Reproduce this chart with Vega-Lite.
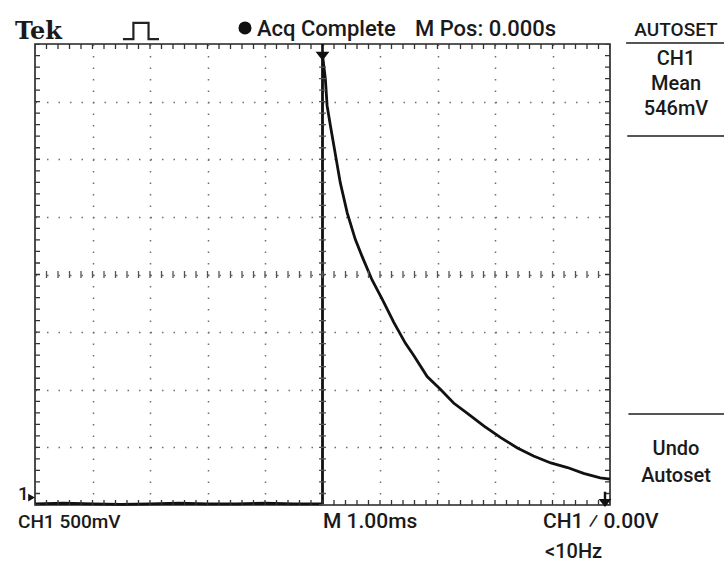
{
  "$schema": "https://vega.github.io/schema/vega-lite/v6.json",
  "width": 575,
  "height": 461,
  "autosize": {"type": "none"},
  "padding": {"left": 35, "top": 44, "right": 114, "bottom": 58},
  "background": "#ffffff",
  "config": {
    "view": {"stroke": "#222222", "strokeWidth": 1.6},
    "font": "Roboto",
    "text": {"font": "Roboto", "fontSize": 20, "color": "#1a1a1a"}
  },
  "data": {
    "values": [
      {"i": 1, "t": -5.0, "v": -0.035},
      {"i": 2, "t": -4.5, "v": -0.03},
      {"i": 3, "t": -4.0, "v": -0.035},
      {"i": 4, "t": -3.5, "v": -0.04},
      {"i": 5, "t": -3.0, "v": -0.035},
      {"i": 6, "t": -2.5, "v": -0.03},
      {"i": 7, "t": -2.0, "v": -0.035},
      {"i": 8, "t": -1.5, "v": -0.035},
      {"i": 9, "t": -1.0, "v": -0.03},
      {"i": 10, "t": -0.5, "v": -0.035},
      {"i": 11, "t": 0.0, "v": -0.035},
      {"i": 12, "t": 0.0, "v": 3.86},
      {"i": 13, "t": 0.05, "v": 3.65},
      {"i": 14, "t": 0.08, "v": 3.42},
      {"i": 15, "t": 0.14, "v": 3.24},
      {"i": 16, "t": 0.23, "v": 2.98},
      {"i": 17, "t": 0.31, "v": 2.75},
      {"i": 18, "t": 0.43, "v": 2.49},
      {"i": 19, "t": 0.57, "v": 2.26},
      {"i": 20, "t": 0.69, "v": 2.11},
      {"i": 21, "t": 0.86, "v": 1.91},
      {"i": 22, "t": 1.04, "v": 1.74},
      {"i": 23, "t": 1.24, "v": 1.54},
      {"i": 24, "t": 1.44, "v": 1.36},
      {"i": 25, "t": 1.59, "v": 1.25},
      {"i": 26, "t": 1.82, "v": 1.07},
      {"i": 27, "t": 2.05, "v": 0.96},
      {"i": 28, "t": 2.28, "v": 0.84},
      {"i": 29, "t": 2.52, "v": 0.75},
      {"i": 30, "t": 2.81, "v": 0.64},
      {"i": 31, "t": 3.1, "v": 0.54},
      {"i": 32, "t": 3.39, "v": 0.45},
      {"i": 33, "t": 3.67, "v": 0.38},
      {"i": 34, "t": 3.97, "v": 0.32},
      {"i": 35, "t": 4.26, "v": 0.28},
      {"i": 36, "t": 4.54, "v": 0.23},
      {"i": 37, "t": 4.83, "v": 0.19},
      {"i": 38, "t": 5.0, "v": 0.18}
    ]
  },
  "layer": [
    {
      "mark": {"type": "line", "color": "#111111", "strokeWidth": 2.8, "strokeJoin": "miter"},
      "encoding": {
        "x": {
          "field": "t", "type": "quantitative", "title": null,
          "scale": {"domain": [-5, 5], "nice": false, "zero": false},
          "axis": {"values": [-4, -3, -2, -1, 0, 1, 2, 3, 4], "grid": true, "gridDash": [1.5, 10], "gridColor": "#6e6e6e", "gridWidth": 1.5, "ticks": false, "labels": false, "domain": false}
        },
        "y": {
          "field": "v", "type": "quantitative", "title": null,
          "scale": {"domain": [-0.045, 3.955], "nice": false, "zero": false},
          "axis": {"values": [0.455, 0.955, 1.455, 1.955, 2.455, 2.955, 3.455], "grid": true, "gridDash": [1.5, 10], "gridColor": "#6e6e6e", "gridWidth": 1.5, "ticks": false, "labels": false, "domain": false}
        },
        "order": {"field": "i"}
      }
    },
    {"data": {"values": [{}]}, "mark": {"type": "rule", "clip": true, "strokeWidth": 10, "strokeDash": [1.3, 10.2], "strokeDashOffset": 0.65, "color": "#333333"}, "encoding": {"y": {"datum": 3.955}}},
    {"data": {"values": [{}]}, "mark": {"type": "rule", "clip": true, "strokeWidth": 10, "strokeDash": [1.3, 10.2], "strokeDashOffset": 0.65, "color": "#333333"}, "encoding": {"y": {"datum": -0.045}}},
    {"data": {"values": [{}]}, "mark": {"type": "rule", "clip": true, "strokeWidth": 7, "strokeDash": [1.3, 10.2], "strokeDashOffset": 0.65, "color": "#555555"}, "encoding": {"y": {"datum": 1.955}}},
    {"data": {"values": [{}]}, "mark": {"type": "rule", "clip": true, "strokeWidth": 10, "strokeDash": [1.3, 10.225], "strokeDashOffset": 0.65, "color": "#333333"}, "encoding": {"x": {"datum": -5}}},
    {"data": {"values": [{}]}, "mark": {"type": "rule", "clip": true, "strokeWidth": 10, "strokeDash": [1.3, 10.225], "strokeDashOffset": 0.65, "color": "#333333"}, "encoding": {"x": {"datum": 5}}},
    {"data": {"values": [{}]}, "mark": {"type": "rule", "clip": true, "strokeWidth": 7, "strokeDash": [1.3, 10.225], "strokeDashOffset": 0.65, "color": "#555555"}, "encoding": {"x": {"datum": 0}}},
    {"data": {"values": [{}]}, "mark": {"type": "rule", "color": "#555555", "strokeWidth": 2}, "encoding": {"x": {"datum": 5.28}, "x2": {"datum": 6.99}, "y": {"datum": 3.964}}},
    {"data": {"values": [{}]}, "mark": {"type": "rule", "color": "#555555", "strokeWidth": 2}, "encoding": {"x": {"datum": 5.3}, "x2": {"datum": 6.99}, "y": {"datum": 3.157}}},
    {"data": {"values": [{}]}, "mark": {"type": "rule", "color": "#555555", "strokeWidth": 2}, "encoding": {"x": {"datum": 5.32}, "x2": {"datum": 6.99}, "y": {"datum": 0.745}}},
    {"data": {"values": [{}]}, "mark": {"type": "point", "filled": true, "color": "#111111", "opacity": 1, "size": 300, "shape": "M-0.15,-1 L0.15,-1 L0.15,-0.1 L0.8,-0.1 L0,0.9 L-0.8,-0.1 L-0.15,-0.1 Z", "clip": false}, "encoding": {"x": {"datum": 0}, "y": {"datum": 3.88}}},
    {"data": {"values": [{}]}, "mark": {"type": "point", "filled": true, "color": "#111111", "opacity": 1, "size": 260, "shape": "M-0.15,-1 L0.15,-1 L0.15,-0.1 L0.8,-0.1 L0,0.9 L-0.8,-0.1 L-0.15,-0.1 Z", "clip": false}, "encoding": {"x": {"datum": 4.913}, "y": {"datum": 0.0}}},
    {"data": {"values": [{}]}, "mark": {"type": "point", "filled": true, "color": "#111111", "opacity": 1, "size": 60, "shape": "triangle-right", "clip": false}, "encoding": {"x": {"datum": -5.06}, "y": {"datum": 0.02}}},
    {"data": {"values": [{}]}, "mark": {"type": "point", "filled": true, "color": "#111111", "opacity": 1, "size": 170, "shape": "circle", "clip": false}, "encoding": {"x": {"datum": -1.348}, "y": {"datum": 4.094}}},
    {"data": {"values": [{}]}, "mark": {"type": "point", "filled": false, "color": "#222222", "opacity": 1, "strokeWidth": 2.2, "size": 1300, "shape": "M-1,0.45 L-0.42,0.45 L-0.42,-0.45 L0.42,-0.45 L0.42,0.45 L1,0.45", "clip": false}, "encoding": {"x": {"datum": -3.157}, "y": {"datum": 4.068}}},
    {"data": {"values": [{}]}, "mark": {"type": "text", "text": "Tek", "font": "DejaVu Serif", "fontWeight": "bold", "fontSize": 24, "align": "left", "baseline": "alphabetic"}, "encoding": {"x": {"datum": -5.348}, "y": {"datum": 3.998}}},
    {"data": {"values": [{}]}, "mark": {"type": "text", "text": "Acq Complete", "align": "left", "baseline": "alphabetic", "fontSize": 22, "fontWeight": 500}, "encoding": {"x": {"datum": -1.139}, "y": {"datum": 4.024}}},
    {"data": {"values": [{}]}, "mark": {"type": "text", "text": "M Pos: 0.000s", "align": "left", "baseline": "alphabetic", "fontSize": 22, "fontWeight": 500}, "encoding": {"x": {"datum": 1.609}, "y": {"datum": 4.024}}},
    {"data": {"values": [{}]}, "mark": {"type": "text", "text": "AUTOSET", "align": "center", "baseline": "alphabetic", "fontSize": 19, "fontWeight": 500}, "encoding": {"x": {"datum": 6.148}, "y": {"datum": 4.024}}},
    {"data": {"values": [{}]}, "mark": {"type": "text", "text": "CH1", "align": "center", "baseline": "alphabetic", "fontSize": 20, "fontWeight": 500}, "encoding": {"x": {"datum": 6.148}, "y": {"datum": 3.773}}},
    {"data": {"values": [{}]}, "mark": {"type": "text", "text": "Mean", "align": "center", "baseline": "alphabetic", "fontSize": 20, "fontWeight": 500}, "encoding": {"x": {"datum": 6.148}, "y": {"datum": 3.556}}},
    {"data": {"values": [{}]}, "mark": {"type": "text", "text": "546mV", "align": "center", "baseline": "alphabetic", "fontSize": 20, "fontWeight": 500}, "encoding": {"x": {"datum": 6.148}, "y": {"datum": 3.339}}},
    {"data": {"values": [{}]}, "mark": {"type": "text", "text": "Undo", "align": "center", "baseline": "alphabetic", "fontSize": 20, "fontWeight": 500}, "encoding": {"x": {"datum": 6.148}, "y": {"datum": 0.389}}},
    {"data": {"values": [{}]}, "mark": {"type": "text", "text": "Autoset", "align": "center", "baseline": "alphabetic", "fontSize": 20, "fontWeight": 500}, "encoding": {"x": {"datum": 6.148}, "y": {"datum": 0.154}}},
    {"data": {"values": [{}]}, "mark": {"type": "text", "text": "CH1  500mV", "align": "left", "baseline": "alphabetic", "fontSize": 19, "fontWeight": 500}, "encoding": {"x": {"datum": -5.296}, "y": {"datum": -0.245}}},
    {"data": {"values": [{}]}, "mark": {"type": "text", "text": "M 1.00ms", "align": "left", "baseline": "alphabetic", "fontSize": 21, "fontWeight": 500}, "encoding": {"x": {"datum": 0.009}, "y": {"datum": -0.245}}},
    {"data": {"values": [{}]}, "mark": {"type": "text", "text": "CH1 ⁄ 0.00V", "align": "left", "baseline": "alphabetic", "fontSize": 21, "fontWeight": 500}, "encoding": {"x": {"datum": 3.835}, "y": {"datum": -0.245}}},
    {"data": {"values": [{}]}, "mark": {"type": "text", "text": "<10Hz", "align": "left", "baseline": "alphabetic", "fontSize": 20, "fontWeight": 500}, "encoding": {"x": {"datum": 3.87}, "y": {"datum": -0.505}}},
    {"data": {"values": [{}]}, "mark": {"type": "text", "text": "1", "align": "left", "baseline": "alphabetic", "fontSize": 19, "fontWeight": 500}, "encoding": {"x": {"datum": -5.296}, "y": {"datum": 0.0}}}
  ]
}
